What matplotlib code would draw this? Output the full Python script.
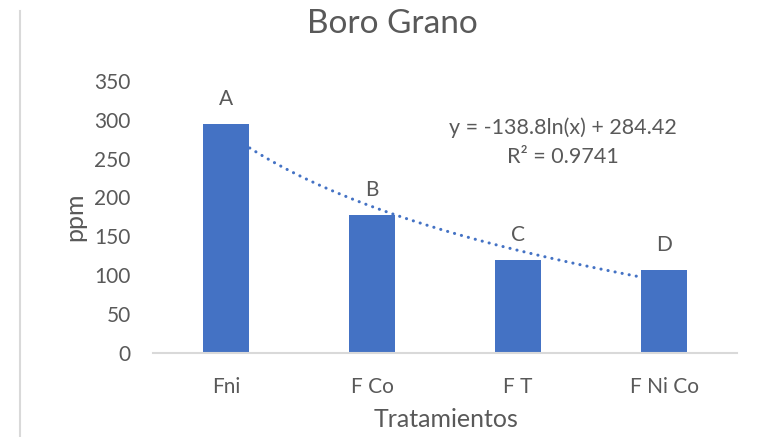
import numpy as np
import matplotlib
matplotlib.use('Agg')
import matplotlib.pyplot as plt
from matplotlib.lines import Line2D

# Data
tratamientos = ['Fni', 'F Co', 'F T', 'F Ni Co']
boro = [294, 177, 120, 107]
letras = ['A', 'B', 'C', 'D']

# Logarithmic trendline shown on the chart
coef_a = -138.8
coef_b = 284.42
r2 = 0.9741

plt.rcParams['font.family'] = ['Lato', 'DejaVu Sans']
text_color = '#595959'
bar_color = '#4472C4'
grid_color = '#D9D9D9'

fig = plt.figure(figsize=(7.64, 4.37), dpi=100)
ax = fig.add_axes([0.2003, 0.1922, 0.7644, 0.6231])

x = np.arange(len(tratamientos))
ax.bar(x, boro, width=0.315, color=bar_color, zorder=2)

# Trendline y = a ln(x) + b with x = 1..4
xt = np.linspace(1, len(tratamientos), 200)
yt = coef_a * np.log(xt) + coef_b
ax.plot(xt - 1, yt, color=bar_color, linewidth=2.2,
        linestyle=(0, (0.05, 2.3)), dash_capstyle='round', zorder=3)

# Letters over bars
for xi, val, let in zip(x, boro, letras):
    ax.annotate(let, (xi, val), xytext=(0, 18), textcoords='offset points',
                ha='center', va='center', fontsize=15, color=text_color)

# Equation text
ax.text(0.702, 0.826, 'y = -138.8ln(x) + 284.42', transform=ax.transAxes,
        ha='center', va='center', fontsize=15.5, color=text_color)
ax.text(0.702, 0.720, 'R² = %.4f' % r2, transform=ax.transAxes,
        ha='center', va='center', fontsize=15.5, color=text_color)

ax.set_xlim(-0.5, len(tratamientos) - 0.5)
ax.set_ylim(0, 350)
ax.set_yticks(np.arange(0, 351, 50))
ax.set_xticks(x)
ax.set_xticklabels(tratamientos)

for s in ['top', 'right', 'left']:
    ax.spines[s].set_visible(False)
ax.spines['bottom'].set_color(grid_color)
ax.spines['bottom'].set_linewidth(1.5)
ax.tick_params(axis='both', length=0, labelsize=15, labelcolor=text_color)
ax.tick_params(axis='y', pad=16)
ax.tick_params(axis='x', pad=17)

ax.set_ylabel('ppm', fontsize=18, color=text_color, va='center')
ax.yaxis.set_label_coords(-0.1336, 0.5)
ax.set_xlabel('Tratamientos', fontsize=18, color=text_color, va='center')
ax.xaxis.set_label_coords(0.502, -0.246)

fig.text(0.514, 0.945, 'Boro Grano', ha='center', va='center',
         fontsize=24, color=text_color)

# light border on the left side of the chart area
fig.add_artist(Line2D([20 / 764, 20 / 764], [0, 1 - 11 / 437],
                      color=grid_color, linewidth=1.5))

fig.savefig('out.png', dpi=100)
